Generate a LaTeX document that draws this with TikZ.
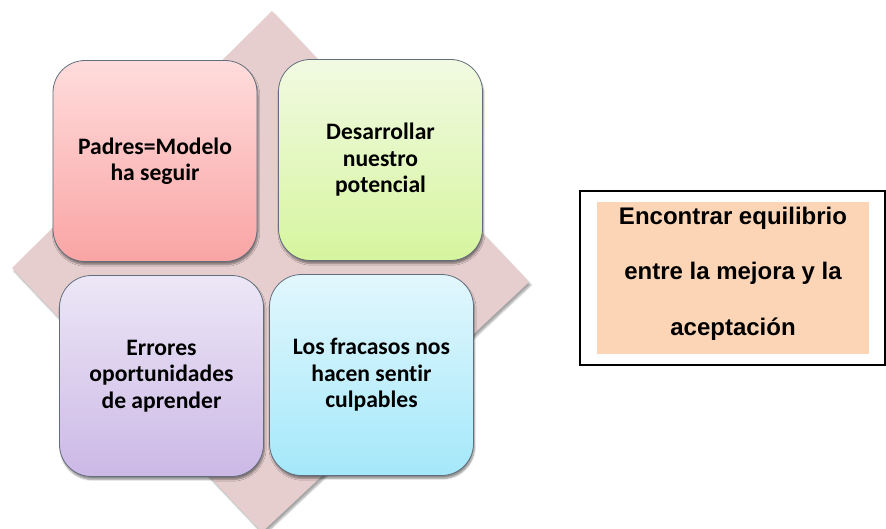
\documentclass[tikz,border=0pt]{standalone}
\usepackage{fontspec}
\usetikzlibrary{shadows.blur}
\newfontfamily\boxfont[Ligatures=NoCommon]{Carlito}
\newfontfamily\notefont{Liberation Sans}
\definecolor{rombo}{RGB}{230,206,206}
\definecolor{borde}{RGB}{98,110,124}
\definecolor{durazno}{RGB}{251,213,181}
\tikzset{
  quad/.style={draw=borde, line width=0.8pt, rounded corners=32pt,
    minimum width=204pt, minimum height=201pt, align=center,
    font=\boxfont\bfseries\fontsize{23.6}{26.5}\selectfont,
    blur shadow={shadow xshift=1pt, shadow yshift=-3pt, shadow blur steps=6, shadow opacity=45}},
}
\begin{document}
\begin{tikzpicture}[x=1pt,y=-1pt]
\useasboundingbox (0,0) rectangle (886,529);
% rombo de fondo
\fill[rombo, blur shadow={shadow xshift=2pt, shadow yshift=-3pt, shadow opacity=35}]
  (272,11) -- (529,282) -- (262,532) -- (12,268) -- cycle;
% cuatro cuadros
\node[quad, top color={rgb,255:red,255;green,220;blue,220}, bottom color={rgb,255:red,250;green,164;blue,164}] (padres) at (155,161) {Padres=Modelo\\ha seguir};
\node[quad, top color={rgb,255:red,241;green,250;blue,226}, bottom color={rgb,255:red,214;green,245;blue,158}] (potencial) at (380.5,160) {Desarrollar\\nuestro\\potencial};
\node[quad, top color={rgb,255:red,236;green,231;blue,246}, bottom color={rgb,255:red,204;green,184;blue,230}] (errores) at (161.5,376) {Errores\\oportunidades\\de aprender};
\node[quad, top color={rgb,255:red,226;green,247;blue,253}, bottom color={rgb,255:red,164;green,232;blue,250}] (fracasos) at (371.5,375) {Los fracasos nos\\hacen sentir\\culpables};
% cuadro de la derecha
\node[draw=black, line width=1.5pt, fill=white, minimum width=305pt, minimum height=174pt] (marco) at (732.5,278) {};
\node[fill=durazno, minimum width=272pt, minimum height=152pt] (fondo) at (733,278) {};
\node[align=center, font=\notefont\bfseries\fontsize{24}{55.5}\selectfont] (equilibrio) at (733,273.5)
  {Encontrar equilibrio\\entre la mejora y la\\aceptación};
\end{tikzpicture}
\end{document}
